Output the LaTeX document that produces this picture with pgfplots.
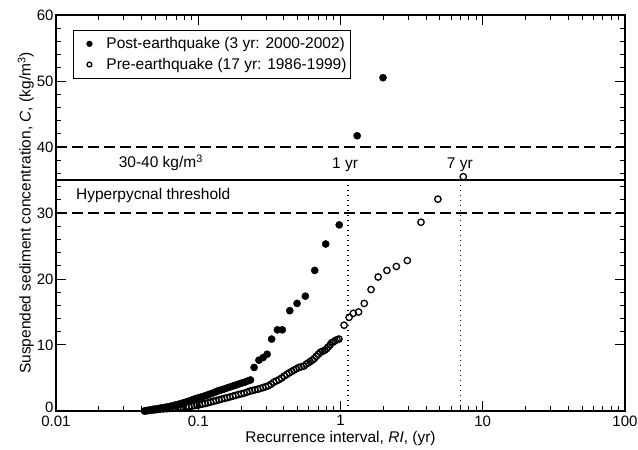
\documentclass[border=0pt]{standalone}
\usepackage{fontspec}
\setmainfont{Liberation Sans}
\usepackage{pgfplots}
\pgfplotsset{compat=1.18}
\begin{document}
\begin{tikzpicture}
\path[use as bounding box] (-56pt,-39pt) rectangle (582pt,411pt);
\begin{axis}[
  at={(0pt,0pt)}, anchor=south west,
  scale only axis, width=569pt, height=396pt,
  xmode=log, xmin=0.01, xmax=100, ymin=0, ymax=60,
  xtick={0.01,0.1,1,10,100}, xticklabels={0.01,0.1,1,10,100},
  ytick={10,20,30,40,50,60}, minor y tick num=4,
  extra y ticks={0}, extra y tick style={yticklabel style={yshift=4pt}},
  tick align=inside,
  major tick length=10pt, minor tick length=5pt,
  every tick/.style={black, line width=1pt},
  axis line style={line width=1.4pt},
  font=\fontsize{15.5}{18}\selectfont,
  /pgf/number format/assume math mode=true,
  xlabel={Recurrence interval, \textit{RI}, (yr)},
  ylabel={Suspended sediment concentration, \textit{C}, (kg/m\textsuperscript{3})},
  xticklabel style={yshift=-1pt, font=\fontsize{15}{18}\selectfont},
  yticklabel style={xshift=1pt, font=\fontsize{15}{18}\selectfont},
  xlabel style={at={(axis description cs:0.5,0)}, anchor=base, yshift=-32pt},
  ylabel style={yshift=-4pt},
  legend style={at={(0.030,0.962)}, anchor=north west, draw=black, line width=0.8pt,
    font=\fontsize{15.5}{18}\selectfont, row sep=4pt, inner xsep=2pt, inner ysep=5pt},
  legend cell align=left,
  legend image code/.code={\path[draw=none,fill=none] (0pt,-3pt) rectangle (29pt,3pt);
    \draw[#1] plot coordinates {(14pt,0pt)};},
]
% reference lines
\addplot[forget plot, black, line width=1.2pt, dash pattern=on 11pt off 5pt] coordinates {(0.01,40) (100,40)};
\addplot[forget plot, black, line width=1.2pt, dash pattern=on 11pt off 5pt] coordinates {(0.01,30) (100,30)};
\addplot[forget plot, black, line width=1.2pt] coordinates {(0.01,35) (100,35)};
\addplot[forget plot, black, line width=1.3pt, dash pattern=on 1.3pt off 3.7pt] coordinates {(1.13,0) (1.13,35)};
\addplot[forget plot, black, line width=1.3pt, dash pattern=on 1.3pt off 3.7pt] coordinates {(7,0) (7,35)};

% post-earthquake
\addplot[only marks, mark=*, mark size=3.6pt, black, mark options={fill=black},
  legend image post style={mark size=2.7pt}] coordinates {
(0.042,0.00) (0.044,0.10) (0.046,0.18) (0.048,0.25) (0.050,0.32) (0.053,0.40)
(0.055,0.46) (0.058,0.55) (0.061,0.64) (0.064,0.72) (0.067,0.82) (0.069,0.90)
(0.072,1.00) (0.075,1.10) (0.078,1.22) (0.082,1.35) (0.086,1.50) (0.091,1.70)
(0.095,1.85) (0.100,2.00) (0.105,2.12) (0.110,2.25) (0.115,2.38) (0.119,2.50)
(0.124,2.65) (0.130,2.82) (0.135,2.97) (0.140,3.10) (0.146,3.22) (0.153,3.35)
(0.160,3.50) (0.168,3.65) (0.176,3.80) (0.185,3.95) (0.194,4.10) (0.203,4.25)
(0.214,4.40) (0.223,4.55) (0.233,4.70)
(0.247,6.6) (0.267,7.7) (0.286,8.1) (0.305,8.6) (0.328,10.9) (0.36,12.3)
(0.39,12.3) (0.44,15.2) (0.495,16.3) (0.566,17.4) (0.659,21.3) (0.787,25.3)
(0.98,28.2) (1.31,41.7) (1.99,50.5)
};
\addlegendentry{Post-earthquake (3 yr: 2000-2002)}

% pre-earthquake
\addplot[only marks, mark=o, mark size=3.2pt, black, line width=1.3pt,
  mark options={fill=white},
  legend image post style={mark size=2.4pt}] coordinates {
(0.042,0.00) (0.044,0.05) (0.046,0.10) (0.048,0.15) (0.050,0.20) (0.052,0.24)
(0.054,0.28) (0.057,0.32) (0.060,0.35) (0.063,0.39) (0.066,0.43) (0.069,0.47)
(0.072,0.51) (0.075,0.55) (0.078,0.58) (0.082,0.62) (0.086,0.66) (0.090,0.74)
(0.094,0.82) (0.098,0.88) (0.102,0.95) (0.107,1.05) (0.112,1.15) (0.117,1.25)
(0.122,1.35) (0.128,1.47) (0.134,1.58) (0.140,1.70) (0.146,1.80) (0.153,1.92)
(0.160,2.02) (0.167,2.13) (0.175,2.25) (0.183,2.36) (0.192,2.50) (0.201,2.60)
(0.210,2.70) (0.220,2.85) (0.230,3.00) (0.240,3.10) (0.250,3.20) (0.262,3.30)
(0.274,3.42) (0.286,3.55) (0.298,3.68) (0.311,3.82) (0.325,4.05) (0.339,4.35)
(0.354,4.55) (0.370,4.75) (0.386,5.00) (0.403,5.30) (0.420,5.55) (0.437,5.80)
(0.455,6.0) (0.471,6.2) (0.49,6.4) (0.51,6.6) (0.53,6.7) (0.553,6.8)
(0.575,7.1) (0.594,7.3) (0.613,7.5) (0.634,7.7) (0.655,7.95) (0.676,8.3)
(0.70,8.6) (0.722,8.9) (0.748,9.05) (0.775,9.2) (0.80,9.45) (0.82,9.7)
(0.845,10.0) (0.867,10.35) (0.89,10.45) (0.915,10.65) (0.945,10.8) (0.975,10.9)
(1.06,13.0) (1.15,14.2) (1.23,14.8) (1.34,15.0) (1.47,16.3) (1.64,18.4)
(1.84,20.3) (2.12,21.3) (2.47,21.9) (2.95,22.8) (3.68,28.6) (4.84,32.1)
(7.3,35.5)
};
\addlegendentry{Pre-earthquake (17 yr: 1986-1999)}

\node[anchor=base, font=\fontsize{15.5}{18}\selectfont] at (axis cs:0.0546,36.9) {30-40 kg/m\textsuperscript{3}};
\node[anchor=base, font=\fontsize{15.5}{18}\selectfont] at (axis cs:1.076,36.8) {1 yr};
\node[anchor=base, font=\fontsize{15.5}{18}\selectfont] at (axis cs:6.9,36.8) {7 yr};
\node[anchor=base west, inner xsep=0pt, font=\fontsize{15.5}{18}\selectfont] at (axis cs:0.0138,32.0) {Hyperpycnal threshold};
\end{axis}
\end{tikzpicture}
\end{document}
